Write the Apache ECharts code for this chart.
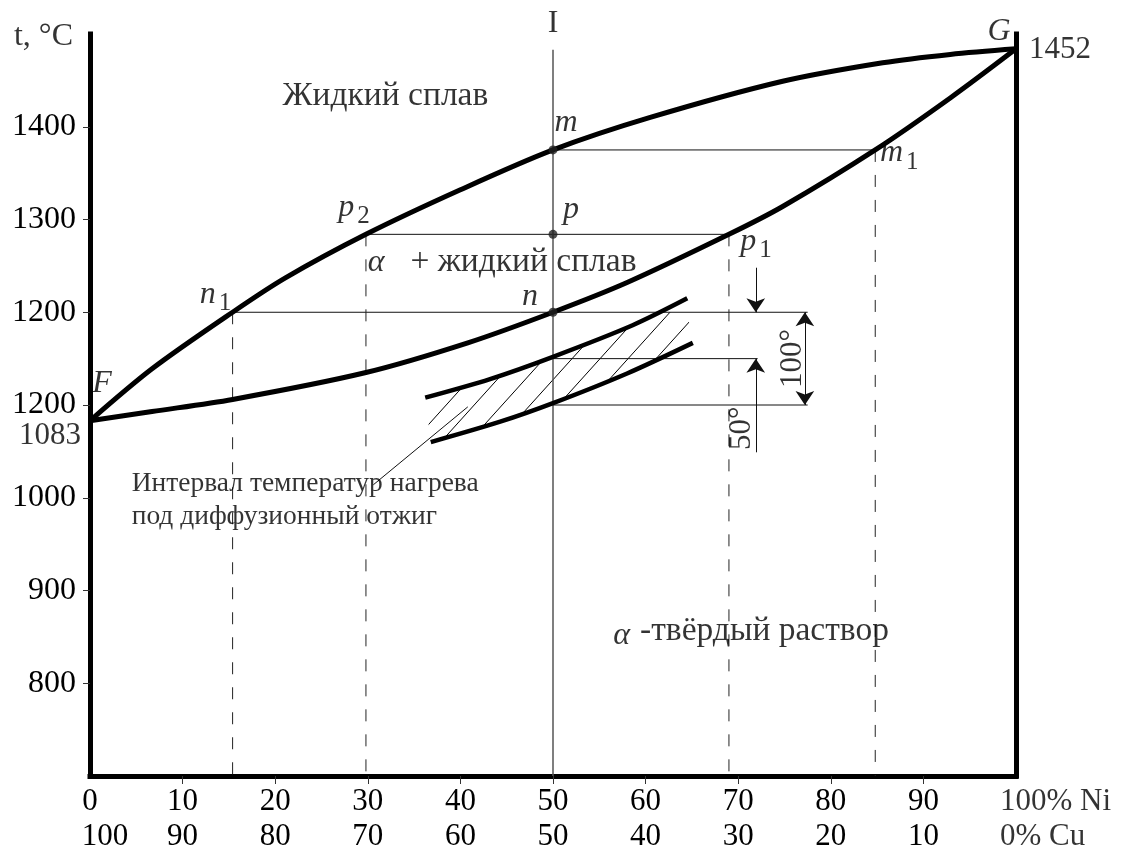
<!DOCTYPE html>
<html>
<head>
<meta charset="utf-8">
<script src="https://cdn.jsdelivr.net/npm/echarts@6/dist/echarts.min.js"></script>
<style>
html, body { margin: 0; background: #fff; }
#chart { width: 1125px; height: 854px; }
</style>
</head>
<body>
<div id="chart"></div>
<script>
// axes
var niTicks = [0, 10, 20, 30, 40, 50, 60, 70, 80, 90, 100];
var niLabels = ['0', '10', '20', '30', '40', '50', '60', '70', '80', '90', ''];
var cuLabels = ['100', '90', '80', '70', '60', '50', '40', '30', '20', '10', ''];
var tempTicks = [800, 900, 1000, 1100, 1200, 1300, 1400];
var tempLabels = ['800', '900', '1000', '1200', '1200', '1300', '1400'];

// liquidus F-G and solidus F-G
var liqNi = [0, 6.7, 15.4, 21.1, 29.8, 40, 50, 60.5, 74.8, 85.6, 92.9, 100];
var liqT = [1083, 1139, 1200, 1237, 1284, 1332, 1375, 1410, 1449, 1469, 1478, 1484];
var solNi = [0, 6.7, 15.4, 29.8, 40.8, 50, 58, 69, 74.8, 84.8, 92.9, 100];
var solT = [1083, 1093, 1106, 1135, 1167, 1200, 1232, 1284, 1314, 1375, 1431, 1484];

// annealing band
var hiNi = [36.2, 43.2, 50, 58.6, 64.5];
var hiT = [1108, 1128, 1152, 1186, 1215];
var loNi = [36.8, 44.3, 50, 58, 65.1];
var loT = [1060, 1082, 1102, 1134, 1167];
var hatchTop = 1200;

// tie lines and drop lines
var tieFrom = [50, 29.8, 15.4, 50, 50];
var tieTo = [84.8, 69, 77.5, 72.1, 77.5];
var tieT = [1375, 1284, 1200, 1150, 1100];
var dropNi = [15.4, 29.8, 69, 84.8];
var dropT = [1200, 1284, 1284, 1375];
var sectionNi = 50;
var sectionT = [700, 1483];
var leaderNi = [30.6, 40.8];
var leaderT = [1014, 1098];

// dimension arrows
var dimNi = [71.9, 71.9, 77.2];
var dimFrom = [1248, 1049, 1200];
var dimTo = [1200, 1150, 1100];
var dimBoth = [false, false, true];

// named points
var keyNames = ['m', 'p', 'n', 'm1', 'p1', 'p2', 'n1', 'F', 'G'];
var keyNi = [50, 50, 50, 84.8, 69, 29.8, 15.4, 0, 100];
var keyT = [1375, 1284, 1200, 1375, 1284, 1284, 1200, 1083, 1484];
var keyDot = [true, true, true, false, false, false, false, false, false];

// text notes
var noteTexts = ['Жидкий сплав', 'α', '+ жидкий сплав', 'α', '-твёрдый раствор',
  'Интервал температур нагрева\nпод диффузионный отжиг', 'I', '1083', '1452',
  '50°', '100°', '100% Ni\n0% Cu', 't, °C'];
var noteNi = [20.8, 30.9, 34.6, 57.4, 59.4, 4.5, 50, 0, 100, 70.4, 75.9, 100, 0];
var noteT = [1433, 1253, 1254, 851, 856, 1033, 1511, 1083, 1484, 1075, 1150, 700, 1500];

var serif = 'Liberation Serif';
var noteStyle = [
  { align: 'left', fontSize: 33.5 },
  { fontStyle: 'italic' },
  { align: 'left', fontSize: 33.5 },
  { fontStyle: 'italic' },
  { align: 'left', fontSize: 33.5 },
  { align: 'left', verticalAlign: 'top', fontSize: 27.5, lineHeight: 33 },
  {},
  { offset: [-40, 15], fontSize: 31 },
  { offset: [44, 1], fontSize: 31 },
  { rotate: 90, fontSize: 31 },
  { rotate: 90, fontSize: 31 },
  { align: 'left', verticalAlign: 'top', offset: [-16, 8], fontSize: 31, lineHeight: 35 },
  { align: 'right', offset: [-17, 3] }
];
var keyOffset = [[13, -27], [18, -25], [-23, -16], [24, 3], [27, 7], [-12, -27], [-17, -18], [12, -37], [-17, -17]];

function pairs(xs, ys) {
  return xs.map(function (x, i) { return [x, ys[i]]; });
}

function hatchOutline() {
  var pts = [];
  for (var i = 0; i < hiNi.length; i++) {
    if (hiT[i] <= hatchTop) {
      pts.push([hiNi[i], hiT[i]]);
    } else {
      var j = i - 1;
      if (j >= 0 && hiT[j] < hatchTop) {
        var k = (hatchTop - hiT[j]) / (hiT[i] - hiT[j]);
        pts.push([hiNi[j] + k * (hiNi[i] - hiNi[j]), hatchTop]);
      }
      pts.push([hiNi[i], hatchTop]);
    }
  }
  for (var m = loNi.length - 1; m >= 0; m--) pts.push([loNi[m], loT[m]]);
  return pts;
}

function hatchCanvas() {
  var w = 28, h = 31;
  var c = document.createElement('canvas');
  c.width = w; c.height = h;
  var g = c.getContext('2d');
  g.strokeStyle = '#000';
  g.lineWidth = 1;
  g.beginPath();
  g.moveTo(0, h); g.lineTo(w, 0);
  g.moveTo(-w, h); g.lineTo(0, 0);
  g.moveTo(w, h); g.lineTo(2 * w, 0);
  g.stroke();
  return c;
}

function thin(data, color, width, type) {
  return {
    type: 'line', data: data, symbol: 'none', silent: true, z: 2,
    lineStyle: { color: color, width: width, type: type || 'solid' }
  };
}

function curve(data, width) {
  return {
    type: 'line', data: data, symbol: 'none', silent: true, z: 5,
    smooth: 0.3,
    lineStyle: { color: '#000', width: width }
  };
}

var series = [];
series.push(curve(pairs(liqNi, liqT), 5));
series.push(curve(pairs(solNi, solT), 5));
series.push(curve(pairs(hiNi, hiT), 4.5));
series.push(curve(pairs(loNi, loT), 4.5));

var pattern = hatchCanvas();
series.push({
  type: 'custom', silent: true, z: 1,
  data: hatchOutline(),
  renderItem: function (params, api) {
    if (params.dataIndex !== 0) return null;
    var pts = hatchOutline().map(function (p) { return api.coord(p); });
    return {
      type: 'polygon',
      shape: { points: pts },
      style: { fill: { image: pattern, repeat: 'repeat' }, stroke: null }
    };
  }
});

tieT.forEach(function (t, i) {
  series.push(thin([[tieFrom[i], t], [tieTo[i], t]], '#111', 1));
});
dropNi.forEach(function (x, i) {
  series.push(thin([[x, dropT[i]], [x, 700]], '#222', 1, [12, 13]));
});
series.push(thin(pairs(leaderNi, leaderT), '#111', 1));

var section = thin([[sectionNi, sectionT[0]], [sectionNi, sectionT[1]]], '#555', 1.5);
section.markLine = {
  silent: true, animation: false,
  symbol: ['none', 'arrow'], symbolSize: 14,
  label: { show: false },
  lineStyle: { color: '#111', width: 1, type: 'solid' },
  data: dimNi.map(function (x, i) {
    return [
      { coord: [x, dimFrom[i]], symbol: dimBoth[i] ? 'arrow' : 'none' },
      { coord: [x, dimTo[i]] }
    ];
  })
};
series.push(section);

series.push({
  type: 'scatter', z: 6, silent: true, clip: false,
  data: keyNames.map(function (name, i) {
    var rich = name.length > 1;
    var text = rich ? '{l|' + name[0] + '}{s|' + name.slice(1) + '}' : '{l|' + name + '}';
    return {
      value: [keyNi[i], keyT[i]],
      symbolSize: keyDot[i] ? 9 : 0,
      label: { show: true, formatter: text, offset: keyOffset[i] }
    };
  }),
  itemStyle: { color: '#222' },
  label: {
    position: 'inside', align: 'center', verticalAlign: 'middle', color: '#000',
    rich: {
      l: { fontFamily: serif, fontSize: 32, fontStyle: 'italic', color: '#000' },
      s: { fontFamily: serif, fontSize: 25, color: '#000', padding: [18, 0, 0, 3] }
    }
  }
});

series.push({
  type: 'scatter', z: 6, silent: true, clip: false, symbolSize: 0,
  data: noteTexts.map(function (txt, i) {
    var st = noteStyle[i];
    return {
      value: [noteNi[i], noteT[i]],
      label: {
        show: true, formatter: txt, position: 'inside', color: '#000',
        fontFamily: serif,
        align: st.align || 'center', verticalAlign: st.verticalAlign || 'middle',
        offset: st.offset || [0, 0], rotate: st.rotate || 0,
        fontSize: st.fontSize || 32, lineHeight: st.lineHeight || null,
        fontStyle: st.fontStyle || 'normal'
      }
    };
  })
});

var axisLine = { show: true, onZero: false, lineStyle: { color: '#000', width: 5, cap: 'square' } };

var option = {
  animation: false,
  backgroundColor: '#fff',
  grid: { left: 90, right: 109, top: 34, bottom: 78 },
  xAxis: {
    type: 'value', min: 0, max: 100, interval: 10,
    axisLine: axisLine,
    splitLine: { show: false },
    axisTick: { show: true, length: 8, lineStyle: { color: '#333', width: 1 }, customValues: niTicks.slice(1, -1) },
    axisLabel: {
      margin: 8, customValues: niTicks,
      formatter: function (v) {
        var i = niTicks.indexOf(v);
        if (i < 0 || !niLabels[i]) return '';
        return '{a|' + niLabels[i] + '}\n{' + (i === 0 ? 'c' : 'a') + '|' + cuLabels[i] + '}';
      },
      rich: {
        a: { fontFamily: serif, fontSize: 31, lineHeight: 35, color: '#000' },
        c: { fontFamily: serif, fontSize: 31, lineHeight: 35, color: '#000', padding: [0, 0, 0, 30] }
      }
    }
  },
  yAxis: [{
    type: 'value', min: 700, max: 1500, interval: 100,
    axisLine: axisLine,
    splitLine: { show: false },
    axisTick: { show: true, length: 7, lineStyle: { color: '#333', width: 1 }, customValues: tempTicks },
    axisLabel: {
      margin: 14, customValues: tempTicks,
      fontFamily: serif, fontSize: 32, color: '#000',
      formatter: function (v) {
        var i = tempTicks.indexOf(v);
        return i < 0 ? '' : tempLabels[i];
      }
    }
  }, {
    type: 'value', min: 700, max: 1500, position: 'right',
    axisLine: axisLine,
    splitLine: { show: false }, axisTick: { show: false }, axisLabel: { show: false }
  }],
  series: series
};

var chart = echarts.init(document.getElementById('chart'));
chart.setOption(option);
</script>
</body>
</html>
